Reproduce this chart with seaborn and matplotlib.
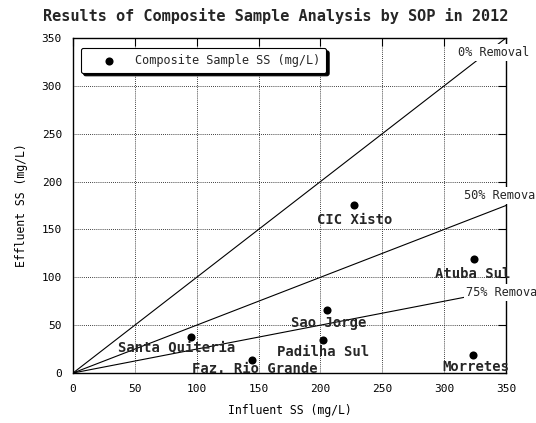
import matplotlib
matplotlib.use("Agg")
import matplotlib.pyplot as plt
import seaborn as sns
import pandas as pd

# Composite sample results per treatment plant (SS, mg/L)
plants = ["Santa Quiteria", "Faz. Rio Grande", "Padilha Sul", "Sao Jorge",
          "CIC Xisto", "Atuba Sul", "Morretes"]
influent_ss = [95, 145, 202, 205, 227, 324, 323]
effluent_ss = [38, 14, 35, 66, 175, 119, 19]

# Reference removal lines: effluent = influent * (1 - removal)
removal_pct = [0, 50, 75]
removal_labels = ["0% Removal", "50% Removal", "75% Removal"]
line_x_end = [350, 350, 318]
label_pos = [(311, 335), (316, 185), (318, 84)]

ticks = [0, 50, 100, 150, 200, 250, 300, 350]

# label offsets (pixels) relative to each point
label_offsets = {
    "Santa Quiteria": (-14, -11),
    "Faz. Rio Grande": (2, -9),
    "Padilha Sul": (0, -12),
    "Sao Jorge": (2, -13),
    "CIC Xisto": (1, -14),
    "Atuba Sul": (-1, -15),
    "Morretes": (3, -12),
}

df = pd.DataFrame({"plant": plants, "influent": influent_ss, "effluent": effluent_ss})

sns.set_theme(style="white")
plt.rcParams["font.family"] = ["DejaVu Sans Mono"]

fig = plt.figure(figsize=(5.36, 4.23), dpi=100)
ax = fig.add_axes([73 / 536, 50 / 423, 433 / 536, 335 / 423])

for pct, x_end in zip(removal_pct, line_x_end):
    frac = 1 - pct / 100
    ax.plot([0, x_end], [0, x_end * frac], color="black", lw=0.8, zorder=2)

for text, (tx, ty) in zip(removal_labels, label_pos):
    ax.text(tx, ty, text, fontsize=8.6, ha="left", va="center", zorder=4,
            clip_on=False,
            bbox=dict(facecolor="white", edgecolor="none", pad=1.5))

sns.scatterplot(data=df, x="influent", y="effluent", ax=ax, color="black",
                s=34, edgecolor="black", linewidth=0,
                label="Composite Sample SS (mg/L)", zorder=5)

for name, xv, yv in zip(plants, influent_ss, effluent_ss):
    dx, dy = label_offsets[name]
    ax.annotate(name, (xv, yv), xytext=(dx, dy), textcoords="offset pixels",
                ha="center", va="center", fontsize=10, fontweight="bold",
                zorder=6)

ax.set_xlim(0, 350)
ax.set_ylim(0, 350)
ax.set_xticks(ticks)
ax.set_yticks(ticks)
ax.grid(True, color="black", linestyle=(0, (1, 1.5)), linewidth=0.6)
ax.tick_params(direction="in", length=6, width=0.8, color="black",
               top=True, right=True, labelsize=8, pad=8, labelcolor="black")
for sp in ax.spines.values():
    sp.set_color("black")
    sp.set_linewidth(1.0)

ax.set_xlabel("Influent SS (mg/L)", fontsize=8.3, labelpad=7, color="black")
ax.set_ylabel("Effluent SS (mg/L)", fontsize=8.3, labelpad=10, color="black")

fig.text(276 / 536, 1 - 16 / 423, "Results of Composite Sample Analysis by SOP in 2012",
         ha="center", va="center", fontsize=11, fontweight="bold")

leg = ax.legend(loc="upper left", bbox_to_anchor=(0.018, 0.97), borderaxespad=0,
                fontsize=8.6, handlelength=3.8, handletextpad=0.25, borderpad=0.5,
                frameon=True, fancybox=True, framealpha=1,
                shadow={"color": "black", "alpha": 1})
leg.get_frame().set_edgecolor("black")
leg.get_frame().set_linewidth(0.8)
leg.set_zorder(7)

fig.savefig("out.png", dpi=100)
